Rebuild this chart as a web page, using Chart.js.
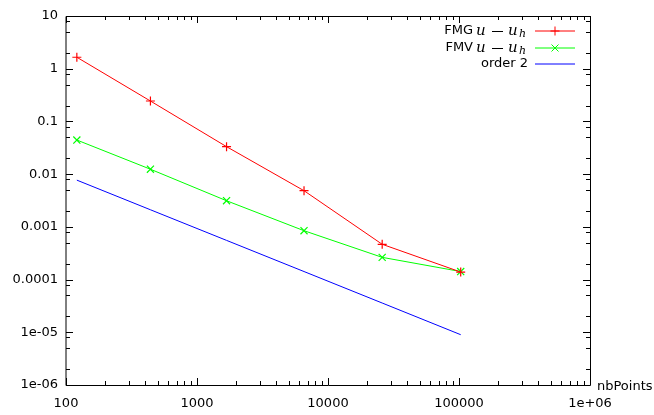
<!DOCTYPE html>
<html>
<head>
<meta charset="utf-8">
<script src="https://cdn.jsdelivr.net/npm/chart.js@4/dist/chart.umd.min.js"></script>
<style>
  html, body { margin: 0; padding: 0; background: #fff; }
  #wrap { width: 654px; height: 415px; }
</style>
</head>
<body>
<div id="wrap"><canvas id="errChart" width="654" height="415"></canvas></div>
<script>
// number of points for each refinement level
const nbPoints = [121, 441, 1681, 6561, 25921, 103041];
// errors
const fmgErr = [1.65, 0.244, 0.0332, 0.00485, 0.000467, 0.000139];
const fmvErr = [0.0444, 0.0124, 0.00313, 0.000845, 0.000264, 0.000142];
const order2 = [0.0077, 0.00211, 0.000554, 0.000142, 3.59e-5, 9.0e-6];

// axis ticks
const xTicks = [100, 1000, 10000, 100000, 1000000];
const xTickLabels = ["100", "1000", "10000", "100000", "1e+06"];
const yTicks = [10, 1, 0.1, 0.01, 0.001, 0.0001, 0.00001, 0.000001];
const yTickLabels = ["10", "1", "0.1", "0.01", "0.001", "0.0001", "1e-05", "1e-06"];

Chart.defaults.font.family = "DejaVu Sans";
Chart.defaults.font.size = 13;
Chart.defaults.color = "#000";

function toXY(ys) {
    return nbPoints.map((x, i) => ({ x: x, y: ys[i] }));
}

// frame with inward ticks on all four sides, gnuplot style
const framePlugin = {
    id: "frame",
    afterDatasetsDraw(chart) {
        const ctx = chart.ctx;
        const a = chart.chartArea;
        const xs = chart.scales.x, ys = chart.scales.y;
        ctx.save();
        ctx.strokeStyle = "#000";
        ctx.lineWidth = 1;
        ctx.beginPath();
        // left border on a whole pixel, like the reference
        ctx.moveTo(a.left, a.top + 0.5);
        ctx.lineTo(a.left, a.bottom + 0.5);
        ctx.moveTo(a.left, a.top + 0.5);
        ctx.lineTo(a.right + 0.5, a.top + 0.5);
        ctx.lineTo(a.right + 0.5, a.bottom + 0.5);
        ctx.lineTo(a.left, a.bottom + 0.5);

        // x ticks: majors at decades, minors 2..9
        for (let d = 2; d <= 6; d++) {
            for (let m = 1; m <= 9; m++) {
                const v = m * Math.pow(10, d);
                if (v > 1e6) break;
                const px = Math.round(xs.getPixelForValue(v)) + 0.5;
                const len = m === 1 ? 7 : 4;
                ctx.moveTo(px, a.bottom);
                ctx.lineTo(px, a.bottom - len);
                ctx.moveTo(px, a.top);
                ctx.lineTo(px, a.top + len);
            }
        }
        // y ticks: majors at decades, minors at 2, 5, 8
        for (let d = -6; d <= 1; d++) {
            [1, 2, 5, 8].forEach(m => {
                const v = m * Math.pow(10, d);
                if (v > 10) return;
                const py = Math.round(ys.getPixelForValue(v)) + 0.5;
                const len = m === 1 ? 7 : 4;
                ctx.moveTo(a.left, py);
                ctx.lineTo(a.left + len, py);
                ctx.moveTo(a.right, py);
                ctx.lineTo(a.right - len, py);
            });
        }
        ctx.stroke();

        // axis title at the right end of the x axis
        ctx.fillStyle = "#000";
        ctx.font = "13px 'DejaVu Sans'";
        ctx.textAlign = "left";
        ctx.textBaseline = "middle";
        ctx.fillText("nbPoints", a.right + 7, a.bottom + 2);
        ctx.restore();
    }
};

// draws  u - u_h  ending at x = right
function drawMath(ctx, right, y) {
    ctx.textAlign = "left";
    ctx.textBaseline = "alphabetic";
    ctx.font = "italic 15px 'DejaVu Serif'";
    ctx.fillText("u", right - 52, y + 4);
    ctx.fillText("u", right - 20, y + 4);
    ctx.font = "italic 11px 'DejaVu Serif'";
    ctx.fillText("h", right - 9, y + 6);
    // minus sign
    ctx.fillRect(right - 36, y, 11, 1);
}

// legend with the math label  u - u_h
const legendPlugin = {
    id: "mathLegend",
    afterDraw(chart) {
        const ctx = chart.ctx;
        const textRight = 528, lineL = 535, lineR = 575;
        const rows = [
            { name: "FMG", math: true, color: "#ff0000", mark: "plus", y: 31 },
            { name: "FMV", math: true, color: "#00ff00", mark: "x", y: 48 },
            { name: "order 2", math: false, color: "#0000ff", mark: null, y: 64 }
        ];
        rows.forEach(r => {
            ctx.save();
            ctx.fillStyle = "#000";
            let x = textRight;
            if (r.math) {
                drawMath(ctx, textRight, r.y);
                x = textRight - 55;
            }
            ctx.font = "13px 'DejaVu Sans'";
            ctx.textAlign = "right";
            ctx.textBaseline = "middle";
            ctx.fillText(r.name, x, r.y);

            ctx.beginPath();
            ctx.moveTo(lineL, r.y);
            ctx.lineTo(lineR, r.y);
            const cx = (lineL + lineR) / 2;
            if (r.mark === "plus") {
                ctx.moveTo(cx - 4.5, r.y); ctx.lineTo(cx + 4.5, r.y);
                ctx.moveTo(cx, r.y - 4.5); ctx.lineTo(cx, r.y + 4.5);
            } else if (r.mark === "x") {
                ctx.moveTo(cx - 3.5, r.y - 3.5); ctx.lineTo(cx + 3.5, r.y + 3.5);
                ctx.moveTo(cx - 3.5, r.y + 3.5); ctx.lineTo(cx + 3.5, r.y - 3.5);
            }
            ctx.lineWidth = 1;
            ctx.strokeStyle = r.color;
            ctx.stroke();
            ctx.restore();
        });
    }
};

const ctx = document.getElementById("errChart").getContext("2d");
const errChart = new Chart(ctx, {
    type: "line",
    data: {
        datasets: [
            {
                label: "FMG",
                data: toXY(fmgErr),
                borderColor: "#ff0000",
                backgroundColor: "#ff0000",
                borderWidth: 1,
                pointStyle: "cross",
                pointRadius: 4.5,
                pointBorderWidth: 1.2,
                tension: 0
            },
            {
                label: "FMV",
                data: toXY(fmvErr),
                borderColor: "#00ff00",
                backgroundColor: "#00ff00",
                borderWidth: 1,
                pointStyle: "crossRot",
                pointRadius: 5,
                pointBorderWidth: 1.2,
                tension: 0
            },
            {
                label: "order 2",
                data: toXY(order2),
                borderColor: "#0000ff",
                borderWidth: 1,
                pointRadius: 0,
                tension: 0
            }
        ]
    },
    options: {
        responsive: false,
        animation: false,
        layout: { padding: { top: 16, right: 64, left: 0, bottom: 0 } },
        plugins: {
            legend: { display: false },
            tooltip: { enabled: false }
        },
        scales: {
            x: {
                type: "logarithmic",
                min: 100,
                max: 1000000,
                afterFit: s => { s.height = 30; },
                afterBuildTicks: s => { s.ticks = xTicks.map(v => ({ value: v })); },
                grid: { display: false, drawTicks: false },
                border: { display: false },
                ticks: {
                    autoSkip: false,
                    maxRotation: 0,
                    padding: 11,
                    callback: v => xTickLabels[xTicks.indexOf(v)]
                }
            },
            y: {
                type: "logarithmic",
                min: 0.000001,
                max: 10,
                afterFit: s => { s.width = 66; },
                afterBuildTicks: s => { s.ticks = yTicks.map(v => ({ value: v })); },
                grid: { display: false, drawTicks: false },
                border: { display: false },
                ticks: {
                    autoSkip: false,
                    padding: 8,
                    callback: v => yTickLabels[yTicks.findIndex(t => Math.abs(t - v) / t < 1e-9)]
                }
            }
        }
    },
    plugins: [framePlugin, legendPlugin]
});
</script>
</body>
</html>
